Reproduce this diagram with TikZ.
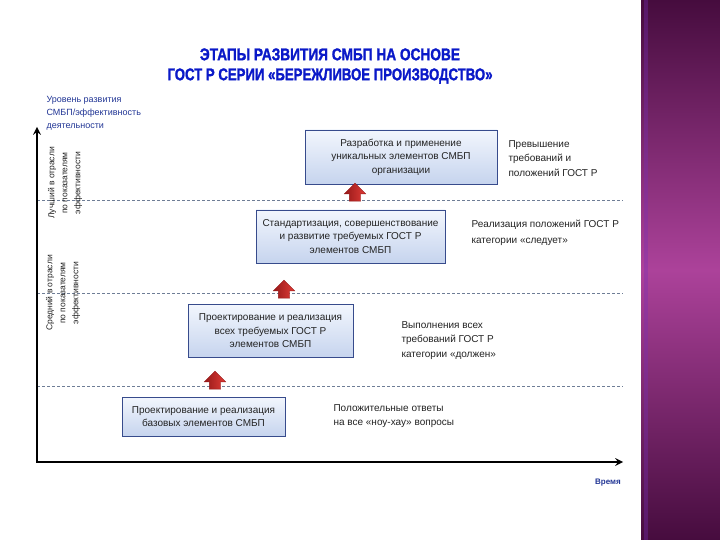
\documentclass[tikz,border=0pt]{standalone}
\usepackage{fontspec}
\setmainfont{Liberation Sans}
\newfontfamily\zagolovokfont[BoldFeatures={FakeBold=1.6}]{Liberation Sans}
\usepackage{tikz}
\usetikzlibrary{shapes.arrows, arrows, calc}
\usepackage{xcolor}
\definecolor{titleblue}{RGB}{10,25,200}
\definecolor{axisblue}{RGB}{35,55,150}
\definecolor{boxedge}{RGB}{55,75,140}
\definecolor{boxtop}{RGB}{242,246,253}
\definecolor{boxbottom}{RGB}{198,212,238}
\definecolor{gridline}{RGB}{110,125,150}
\definecolor{arrowred}{RGB}{225,60,55}
\definecolor{arrowdark}{RGB}{150,25,25}
\definecolor{paneldark}{RGB}{70,12,62}
\definecolor{panellight}{RGB}{172,66,154}
\definecolor{textgray}{RGB}{35,35,35}
\tikzset{
    etap/.style={draw=boxedge, top color=boxtop, bottom color=boxbottom, align=center,
        font=\fontsize{10}{13.5}\selectfont, text=textgray, inner sep=0pt},
    strelka/.style={single arrow, rotate=90, draw=arrowdark, left color=arrowdark, right color=arrowred,
        minimum height=18pt, inner xsep=0pt, inner ysep=5.5pt,
        single arrow head extend=5pt, single arrow tip angle=90},
    setka/.style={draw=gridline, dashed, dash pattern=on 3pt off 2pt, line width=0.8pt},
    os/.style={draw=black, line width=2.4pt, >=stealth},
    poyasnenie/.style={anchor=north west, align=left, font=\fontsize{10}{14.5}\selectfont, text=textgray},
    uroven/.style={rotate=90, align=center, font=\fontsize{8.5}{13}\selectfont, text=textgray}
}

\begin{document}
\begin{tikzpicture}[x=1pt, y=-1pt]
    \useasboundingbox (0,0) rectangle (720,540);
    \fill[white] (0,0) rectangle (720,540);
    % right panel
    \shade[top color=paneldark, bottom color=paneldark, middle color=panellight] (641,0) rectangle (720,540);
    \fill[panellight!70!blue, opacity=0.35] (644,0) rectangle (648,540);

    % title
    \node[align=center, text=titleblue, font=\fontsize{17}{20}\zagolovokfont\bfseries] (zagolovok) at (330,66)
        {\resizebox{260pt}{\height}{ЭТАПЫ РАЗВИТИЯ СМБП НА ОСНОВЕ}\\
         \resizebox{325pt}{\height}{ГОСТ Р СЕРИИ «БЕРЕЖЛИВОЕ ПРОИЗВОДСТВО»}};

    % axes
    \coordinate (nachalo) at (37,462);
    \coordinate (osY) at (37,127);
    \coordinate (osX) at (623,462);
    \foreach \y in {200,293,386}
        \draw[setka] (37,\y) -- (623,\y);
    \draw[os, <->] (osY) -- (nachalo) -- (osX);
    \node[anchor=north west, align=left, text=axisblue, font=\fontsize{9}{13}\selectfont] (osYlabel) at (43,93)
        {Уровень развития\\СМБП/эффективность\\деятельности};
    \node[text=axisblue, font=\fontsize{8}{10}\selectfont\bfseries] (osXlabel) at (608,483) {Время};

    \node[uroven] (luchshiy) at (65,183) {Лучший в отрасли\\по показателям\\эффективности};
    \node[uroven] (sredniy) at (63,293) {Средний в отрасли\\по показателям\\эффективности};

    % stages
    \node[etap, minimum width=163pt, minimum height=39pt] (etap1) at (203.5,416.5)
        {Проектирование и реализация\\базовых элементов СМБП};
    \node[etap, minimum width=165pt, minimum height=53pt] (etap2) at (270.5,331)
        {Проектирование и реализация\\всех требуемых ГОСТ Р\\элементов СМБП};
    \node[etap, minimum width=189pt, minimum height=53pt] (etap3) at (350.5,236.5)
        {Стандартизация, совершенствование\\и развитие требуемых ГОСТ Р\\элементов СМБП};
    \node[etap, minimum width=192pt, minimum height=54pt] (etap4) at (401,157)
        {Разработка и применение\\уникальных элементов СМБП\\организации};

    \node[strelka] (strelka1) at (215,383) {};
    \node[strelka] (strelka2) at (284,292) {};
    \node[strelka] (strelka3) at (355,195) {};

    % criteria
    \node[poyasnenie] (otvety) at (330,401) {Положительные ответы\\на все «ноу-хау» вопросы};
    \node[poyasnenie] (vypolnenie) at (398,318) {Выполнения всех\\требований ГОСТ Р\\категории «должен»};
    \node[poyasnenie, font=\fontsize{10}{15.5}\selectfont] (realizaciya) at (468,217) {Реализация положений ГОСТ Р\\категории «следует»};
    \node[poyasnenie] (prevyshenie) at (505,137) {Превышение\\требований и\\положений ГОСТ Р};
\end{tikzpicture}
\end{document}
